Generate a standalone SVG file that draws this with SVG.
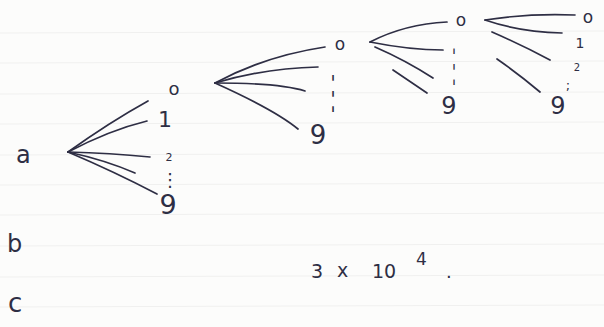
<svg xmlns="http://www.w3.org/2000/svg" width="604" height="327" viewBox="0 0 604 327">
<style>
.bg{fill:#fcfcfb}
.rule{stroke:#f0f0ef;stroke-width:1}
.c{fill:none;stroke:#2e2e44;stroke-width:1.7;stroke-linecap:round}
.t{font-family:"DejaVu Sans","Liberation Sans",sans-serif;fill:#2e2e44}
</style>
<rect class="bg" x="0" y="0" width="604" height="327"/>
<g id="paper-lines">
<line class="rule" x1="0" y1="33" x2="604" y2="31"/>
<line class="rule" x1="0" y1="63" x2="604" y2="61"/>
<line class="rule" x1="0" y1="94" x2="604" y2="92"/>
<line class="rule" x1="0" y1="124" x2="604" y2="122"/>
<line class="rule" x1="0" y1="155" x2="604" y2="153"/>
<line class="rule" x1="0" y1="185" x2="604" y2="183"/>
<line class="rule" x1="0" y1="215" x2="604" y2="213"/>
<line class="rule" x1="0" y1="246" x2="604" y2="244"/>
<line class="rule" x1="0" y1="277" x2="604" y2="275"/>
<line class="rule" x1="0" y1="307" x2="604" y2="305"/>
</g>
<g id="connectors">
<path class="c" d="M68,152 Q110,122 148,101"/>
<path class="c" d="M68,152 Q110,130 147,121"/>
<path class="c" d="M68,152 Q110,153 150,157"/>
<path class="c" d="M68,152 Q105,160 135,173"/>
<path class="c" d="M68,152 Q115,172 157,194"/>
<path class="c" d="M215,83 Q265,56 325,47"/>
<path class="c" d="M215,83 Q265,68 318,67"/>
<path class="c" d="M215,83 Q280,83 305,91"/>
<path class="c" d="M215,83 Q275,110 298,129"/>
<path class="c" d="M370,42 Q405,24 447,22"/>
<path class="c" d="M370,42 Q410,50 443,50"/>
<path class="c" d="M375,47 Q405,60 433,78"/>
<path class="c" d="M393,70 L427,93"/>
<path class="c" d="M485,20 Q530,13 575,15"/>
<path class="c" d="M485,20 Q520,32 562,33"/>
<path class="c" d="M492,32 Q522,45 550,60"/>
<path class="c" d="M497,59 Q520,75 540,92"/>
</g>
<g id="label-a"><text class="t" x="16" y="163" font-size="24">a</text></g>
<g id="label-b"><text class="t" x="7" y="252" font-size="24">b</text></g>
<g id="label-c"><text class="t" x="8" y="312" font-size="26">c</text></g>
<g id="tree1-0"><text class="t" x="174" y="95" font-size="18" text-anchor="middle">o</text></g>
<g id="tree1-1"><text class="t" x="165" y="127" font-size="22" text-anchor="middle">1</text></g>
<g id="tree1-2"><text class="t" x="169" y="161" font-size="11" text-anchor="middle">2</text></g>
<g id="tree1-dots"><text class="t" x="170" y="186" font-size="18" text-anchor="middle">⋮</text></g>
<g id="tree1-9"><text class="t" x="168" y="214" font-size="27" text-anchor="middle">9</text></g>
<g id="tree2-0"><text class="t" x="340" y="50" font-size="17" text-anchor="middle">o</text></g>
<g id="tree2-dots"><text class="t" font-size="15" text-anchor="middle" transform="translate(333,108) scale(1,3.1)">⋮</text></g>
<g id="tree2-9"><text class="t" x="318" y="144" font-size="26" text-anchor="middle">9</text></g>
<g id="tree3-0"><text class="t" x="461" y="26" font-size="17" text-anchor="middle">o</text></g>
<g id="tree3-dots"><text class="t" font-size="12" text-anchor="middle" transform="translate(454,81) scale(1,3.8)">⋮</text></g>
<g id="tree3-9"><text class="t" x="449" y="114" font-size="24" text-anchor="middle">9</text></g>
<g id="tree4-0"><text class="t" x="588" y="23" font-size="17" text-anchor="middle">o</text></g>
<g id="tree4-1"><text class="t" x="580" y="48" font-size="14" text-anchor="middle">1</text></g>
<g id="tree4-2"><text class="t" x="577" y="71" font-size="10" text-anchor="middle">2</text></g>
<g id="tree4-semi"><text class="t" x="568" y="90" font-size="13" text-anchor="middle">;</text></g>
<g id="tree4-9"><text class="t" x="558" y="114" font-size="24" text-anchor="middle">9</text></g>
<g id="result"><text class="t" font-size="19"><tspan x="311" y="278">3</tspan><tspan x="337" y="277">x</tspan><tspan x="372" y="278">10</tspan></text><text class="t" x="416" y="265" font-size="17">4</text><text class="t" x="446" y="278" font-size="18">.</text></g>
</svg>
